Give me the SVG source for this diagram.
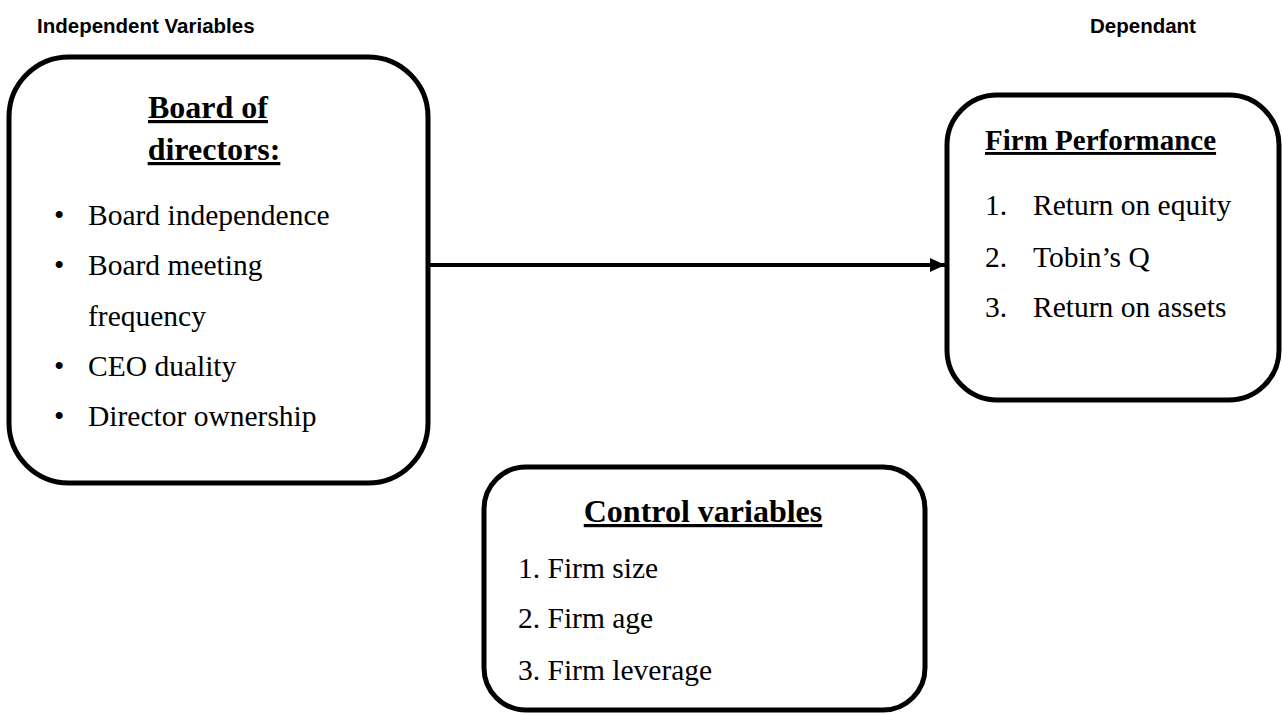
<svg xmlns="http://www.w3.org/2000/svg" width="1282" height="715" viewBox="0 0 1282 715">
<style>
.box{fill:#fff;stroke:#000;stroke-width:5}
.hd{font-family:"Liberation Sans",Arial,sans-serif;font-weight:bold;font-size:20.5px;fill:#000}
.tt{font-family:"Liberation Serif","Times New Roman",serif;font-weight:bold;font-size:32px;fill:#000;text-decoration:underline}
.it{font-family:"Liberation Serif","Times New Roman",serif;font-size:29.5px;fill:#000}
</style>
<defs>
<marker id="arr" markerWidth="16" markerHeight="16" refX="15" refY="7" orient="auto" markerUnits="userSpaceOnUse">
<path d="M0,0 L15,7 L0,14 z" fill="#000"/>
</marker>
</defs>
<text class="hd" x="37" y="33">Independent Variables</text>
<text class="hd" x="1090" y="33">Dependant</text>
<g id="connectors">
<line x1="430" y1="265" x2="945" y2="265" stroke="#000" stroke-width="4" marker-end="url(#arr)"/>
</g>
<g id="board">
<rect class="box" x="9" y="57" width="419" height="426" rx="60" ry="60"/>
<text class="tt" x="208" y="118" text-anchor="middle">Board of</text>
<text class="tt" x="214" y="160" text-anchor="middle">directors:</text>
<g class="it">
<text x="54" y="225">•</text><text x="88" y="225">Board independence</text>
<text x="54" y="275">•</text><text x="88" y="275">Board meeting</text>
<text x="88" y="326">frequency</text>
<text x="54" y="376">•</text><text x="88" y="376">CEO duality</text>
<text x="54" y="426">•</text><text x="88" y="426">Director ownership</text>
</g>
</g>
<g id="performance">
<rect class="box" x="947" y="95" width="332" height="305" rx="50" ry="50"/>
<text class="tt" x="985" y="150" style="font-size:29px">Firm Performance</text>
<g class="it">
<text x="985" y="215">1.</text><text x="1033" y="215">Return on equity</text>
<text x="985" y="267">2.</text><text x="1033" y="267">Tobin’s Q</text>
<text x="985" y="317">3.</text><text x="1033" y="317">Return on assets</text>
</g>
</g>
<g id="control">
<rect class="box" x="484" y="467" width="441" height="243" rx="42" ry="42"/>
<text class="tt" x="703" y="522" text-anchor="middle">Control variables</text>
<g class="it">
<text x="518" y="578">1. Firm size</text>
<text x="518" y="628">2. Firm age</text>
<text x="518" y="680">3. Firm leverage</text>
</g>
</g>
</svg>
